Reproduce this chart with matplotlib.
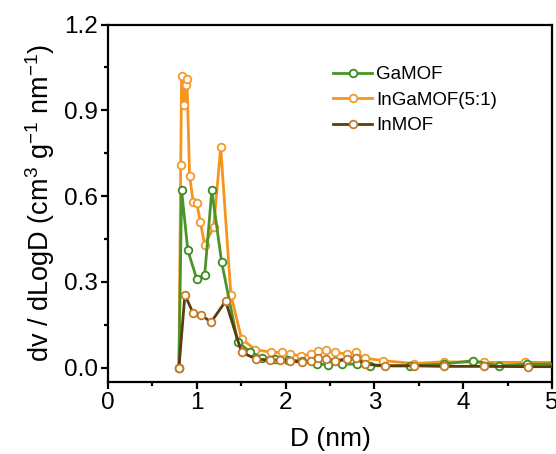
import matplotlib
matplotlib.use("Agg")
import matplotlib.pyplot as plt
from matplotlib.ticker import MultipleLocator

plt.rcParams['font.family'] = ['Liberation Sans', 'DejaVu Sans']
plt.rcParams['mathtext.default'] = 'regular'

# GaMOF
ga_x = [0.80, 0.83, 0.90, 1.00, 1.09, 1.17, 1.28, 1.46, 1.60, 1.73, 1.88, 2.03, 2.18, 2.35, 2.48, 2.63, 2.80, 2.95, 3.40, 3.78, 4.11, 4.40, 4.72, 5.10]
ga_y = [0.00, 0.62, 0.41, 0.31, 0.325, 0.62, 0.37, 0.09, 0.055, 0.035, 0.03, 0.028, 0.022, 0.012, 0.01, 0.012, 0.012, 0.006, 0.006, 0.012, 0.024, 0.006, 0.012, 0.012]

# InGaMOF(5:1)
inga_x = [0.80, 0.82, 0.83, 0.86, 0.88, 0.89, 0.92, 0.96, 1.00, 1.04, 1.09, 1.19, 1.27, 1.385, 1.505, 1.66, 1.84, 1.96, 2.05, 2.17, 2.29, 2.37, 2.46, 2.56, 2.69, 2.79, 2.89, 3.10, 3.44, 3.78, 4.23, 4.70, 5.10]
inga_y = [0.00, 0.71, 1.02, 0.92, 0.99, 1.01, 0.67, 0.58, 0.576, 0.51, 0.43, 0.49, 0.77, 0.254, 0.10, 0.063, 0.053, 0.053, 0.047, 0.041, 0.047, 0.059, 0.061, 0.053, 0.047, 0.053, 0.033, 0.024, 0.014, 0.02, 0.018, 0.018, 0.018]

# InMOF
in_x = [0.80, 0.867, 0.96, 1.05, 1.16, 1.325, 1.505, 1.67, 1.82, 1.94, 2.05, 2.18, 2.29, 2.37, 2.46, 2.56, 2.69, 2.79, 2.89, 3.12, 3.44, 3.78, 4.23, 4.73, 5.10]
in_y = [0.00, 0.254, 0.19, 0.185, 0.158, 0.232, 0.053, 0.03, 0.026, 0.026, 0.024, 0.018, 0.024, 0.035, 0.03, 0.024, 0.03, 0.035, 0.012, 0.006, 0.006, 0.004, 0.004, 0.003, 0.003]

fig = plt.figure(figsize=(5.56, 4.54), dpi=100)
ax = fig.add_axes([0.194, 0.159, 0.799, 0.787])

mk = dict(marker='o', markersize=5.5, markerfacecolor='white', markeredgewidth=1.3, linewidth=2.0, clip_on=True)
l2, = ax.plot(inga_x, inga_y, color='#f7941d', markeredgecolor='#f29a30', zorder=2, label='InGaMOF(5:1)', **mk)
l1, = ax.plot(ga_x, ga_y, color='#4a9428', markeredgecolor='#3f8a22', zorder=3, label='GaMOF', **mk)
l3, = ax.plot(in_x, in_y, color='#5c3b0e', markeredgecolor='#c47a25', zorder=4, label='InMOF', **mk)

ax.set_xlim(0, 5)
ax.set_ylim(-0.05, 1.2)
ax.xaxis.set_major_locator(MultipleLocator(1))
ax.xaxis.set_minor_locator(MultipleLocator(0.5))
ax.yaxis.set_minor_locator(MultipleLocator(0.15))
ax.set_yticks([0.0, 0.3, 0.6, 0.9, 1.2])
ax.set_yticklabels(['0.0', '0.3', '0.6', '0.9', '1.2'])

for s in ax.spines.values():
    s.set_linewidth(1.6)
ax.tick_params(which='major', direction='out', length=5, width=1.6, labelsize=17.5, pad=2)
ax.tick_params(which='minor', direction='out', length=3, width=1.6)
ax.tick_params(top=False, right=False, which='both')

ax.set_xlabel('D (nm)', fontsize=19, labelpad=10)
ax.set_ylabel(r'dv / dLogD (cm$^{3}$ g$^{-1}$ nm$^{-1}$)', fontsize=19.5, labelpad=5)

ax.legend(handles=[l1, l2, l3], loc='upper left', bbox_to_anchor=(0.49, 0.905), frameon=False,
          fontsize=13.5, handlelength=2.1, handletextpad=0.2, labelspacing=0.45, borderaxespad=0)

fig.savefig('out.png', dpi=100)
